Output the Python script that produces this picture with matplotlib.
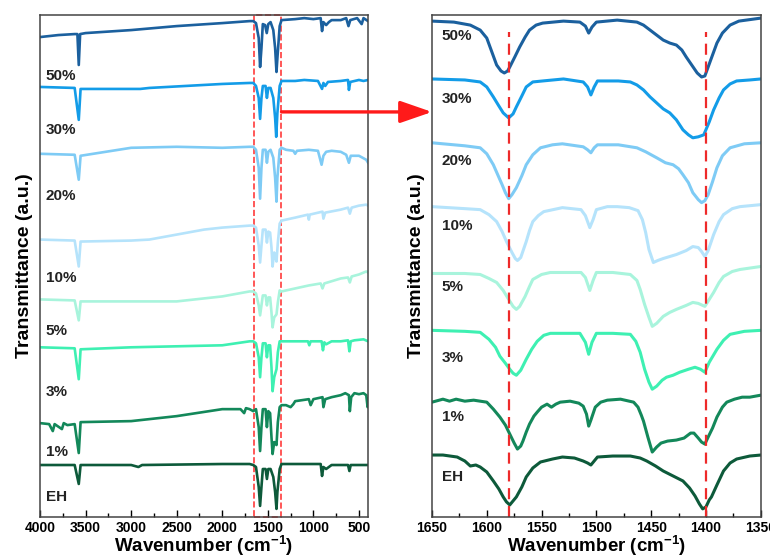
import numpy as np
import matplotlib
matplotlib.use("Agg")
from matplotlib import pyplot as plt
from matplotlib.patches import Rectangle, ConnectionPatch

plt.rcParams['font.family'] = ['Liberation Sans', 'DejaVu Sans']
plt.rcParams['font.weight'] = 'bold'
plt.rcParams['mathtext.fontset'] = 'custom'
plt.rcParams['mathtext.rm'] = 'Liberation Sans:bold'
plt.rcParams['mathtext.bf'] = 'Liberation Sans:bold'
plt.rcParams['mathtext.default'] = 'bf'

labels = ['50%', '30%', '20%', '10%', '5%', '3%', '1%', 'EH']
colors = ['#1b609e', '#139ce8', '#7ecbf5', '#b5e3fb', '#a8f4dc', '#3ef0b2', '#13885a', '#0d5a3a']

# full range spectra (wavenumber, transmittance a.u.)
full_50 = [(4000, 481), (3800, 483), (3620, 484), (3590, 484), (3575, 453), (3560, 484), (3500, 485),
           (3000, 488), (2500, 492), (2000, 495), (1700, 497), (1660, 497), (1630, 495), (1600, 480),
           (1585, 451), (1570, 470), (1555, 494), (1530, 493), (1512, 485), (1495, 494), (1470, 496),
           (1440, 488), (1420, 470), (1405, 446), (1395, 460), (1370, 492), (1350, 498), (1200, 499),
           (1100, 500), (1000, 499), (920, 500), (905, 487), (890, 496), (860, 493), (830, 496),
           (800, 498), (700, 498), (640, 500), (615, 492), (595, 498), (520, 500), (470, 494),
           (450, 500), (400, 497)]
full_30 = [(4000, 431), (3620, 430), (3575, 398), (3555, 429), (2900, 429), (2800, 430), (2000, 434),
           (1700, 435), (1660, 435), (1630, 432), (1600, 420), (1585, 399), (1570, 420), (1555, 432),
           (1525, 432), (1510, 420), (1495, 430), (1470, 430), (1440, 420), (1420, 400), (1408, 381),
           (1395, 405), (1370, 432), (1350, 437), (1200, 437), (1100, 438), (950, 437), (905, 429),
           (890, 435), (870, 432), (840, 436), (700, 437), (620, 438), (610, 428), (595, 436),
           (500, 438), (450, 437), (400, 438)]
full_20 = [(4000, 364), (3620, 363), (3575, 338), (3555, 362), (3000, 370), (2500, 371), (2000, 370),
           (1700, 371), (1660, 371), (1630, 368), (1600, 350), (1585, 319), (1570, 350), (1555, 368),
           (1525, 368), (1510, 355), (1495, 366), (1470, 368), (1440, 360), (1420, 340), (1405, 316),
           (1395, 340), (1370, 368), (1350, 370), (1300, 368), (1220, 367), (1200, 364), (1180, 367),
           (1050, 368), (950, 367), (910, 353), (890, 362), (860, 366), (800, 367), (700, 366),
           (640, 363), (610, 355), (590, 362), (500, 362), (420, 358), (400, 355)]
full_10 = [(4000, 278), (3620, 277), (3575, 251), (3555, 276), (3000, 277), (2800, 278), (2500, 283),
           (2200, 288), (2000, 290), (1700, 292), (1660, 292), (1630, 290), (1600, 272), (1585, 255),
           (1570, 272), (1555, 288), (1525, 288), (1510, 275), (1495, 286), (1475, 285), (1460, 270),
           (1448, 251), (1430, 265), (1420, 262), (1405, 256), (1390, 275), (1370, 294), (1350, 297),
           (1200, 300), (1060, 303), (1050, 298), (1040, 303), (900, 306), (890, 299), (870, 305),
           (700, 308), (620, 310), (600, 304), (580, 310), (500, 312), (420, 313), (400, 312)]
full_5 = [(4000, 218), (3620, 217), (3575, 197), (3555, 216), (3000, 216), (2500, 216), (2000, 221),
          (1700, 226), (1660, 226), (1630, 224), (1600, 212), (1585, 202), (1570, 212), (1555, 222),
          (1525, 222), (1510, 212), (1495, 220), (1475, 220), (1460, 205), (1448, 190), (1430, 200),
          (1405, 203), (1390, 215), (1370, 227), (1350, 226), (1200, 229), (1050, 232), (920, 234),
          (900, 229), (880, 234), (700, 239), (620, 240), (600, 235), (580, 241), (500, 243),
          (420, 246), (400, 245)]
full_3 = [(4000, 170), (3620, 169), (3575, 138), (3555, 168), (3000, 170), (2500, 171), (2000, 172),
          (1700, 176), (1660, 176), (1630, 174), (1600, 160), (1585, 140), (1570, 160), (1555, 174),
          (1525, 174), (1510, 160), (1495, 172), (1475, 172), (1460, 150), (1448, 126), (1430, 140),
          (1405, 148), (1390, 165), (1370, 176), (1350, 176), (1200, 176), (1060, 176), (1045, 172),
          (1030, 176), (910, 176), (895, 167), (880, 175), (860, 173), (800, 176), (700, 176),
          (620, 177), (605, 166), (590, 176), (550, 177), (450, 178), (400, 176)]
full_1 = [(4000, 94), (3900, 93), (3860, 86), (3840, 93), (3760, 88), (3740, 94), (3700, 92), (3620, 93),
          (3575, 64), (3555, 95), (3000, 96), (2500, 101), (2000, 108), (1800, 108), (1760, 104),
          (1740, 109), (1700, 108), (1660, 106), (1630, 108), (1600, 90), (1585, 66), (1570, 90),
          (1555, 108), (1525, 108), (1510, 90), (1495, 106), (1475, 104), (1460, 80), (1448, 63),
          (1430, 75), (1405, 72), (1390, 95), (1370, 110), (1350, 112), (1300, 112), (1250, 110),
          (1220, 113), (1200, 116), (1050, 118), (1030, 112), (1000, 118), (900, 120), (890, 110),
          (870, 118), (800, 120), (700, 122), (650, 124), (610, 122), (600, 106), (585, 120),
          (550, 124), (500, 123), (450, 124), (420, 122), (405, 110), (400, 118)]
full_eh = [(4000, 52), (3620, 52), (3575, 33), (3555, 52), (3000, 52), (2920, 50), (2880, 52),
           (2000, 53), (1700, 53), (1660, 52), (1630, 50), (1600, 30), (1585, 11), (1570, 30),
           (1555, 48), (1525, 48), (1510, 38), (1495, 48), (1470, 48), (1440, 40), (1420, 25),
           (1405, 8), (1395, 25), (1370, 48), (1350, 53), (1200, 53), (1050, 53), (920, 53),
           (905, 41), (890, 50), (860, 48), (800, 52), (700, 52), (620, 52), (605, 46), (590, 52),
           (500, 52), (400, 52)]

# zoomed region 1650-1350
zoom_50 = [(1650, 497), (1630, 496), (1615, 493), (1606, 488), (1600, 480), (1597, 471), (1591, 453),
           (1587, 447), (1584, 445), (1581, 447), (1579, 451), (1574, 462), (1570, 471), (1565, 481),
           (1561, 488), (1555, 493), (1549, 495), (1530, 497), (1515, 496), (1510, 492), (1507, 485),
           (1504, 491), (1500, 496), (1481, 498), (1463, 496), (1457, 493), (1451, 488), (1445, 483),
           (1439, 478), (1433, 475), (1427, 473), (1422, 468), (1418, 461), (1413, 453), (1408, 445),
           (1404, 441), (1401, 442), (1398, 451), (1394, 463), (1390, 475), (1385, 485), (1378, 493),
           (1370, 497), (1350, 500)]
zoom_30 = [(1650, 439), (1620, 438), (1606, 436), (1600, 431), (1594, 421), (1589, 412), (1585, 405),
           (1580, 400), (1576, 404), (1573, 411), (1568, 422), (1564, 431), (1558, 436), (1549, 437),
           (1530, 439), (1512, 436), (1508, 431), (1505, 423), (1502, 431), (1499, 437), (1480, 437),
           (1469, 436), (1463, 433), (1457, 428), (1451, 421), (1445, 415), (1439, 409), (1433, 405),
           (1427, 398), (1421, 388), (1416, 383), (1412, 380), (1407, 381), (1402, 383), (1397, 396),
           (1393, 408), (1388, 420), (1384, 428), (1378, 434), (1372, 437), (1360, 438), (1350, 439)]
zoom_20 = [(1650, 375), (1620, 372), (1606, 370), (1600, 364), (1594, 353), (1590, 343), (1586, 333),
           (1583, 325), (1580, 319), (1577, 323), (1573, 330), (1568, 342), (1564, 353), (1558, 363),
           (1551, 370), (1540, 373), (1531, 374), (1512, 371), (1508, 368), (1505, 365), (1502, 370),
           (1499, 373), (1480, 373), (1463, 370), (1455, 366), (1445, 360), (1437, 355), (1430, 353),
           (1425, 349), (1421, 343), (1416, 335), (1412, 325), (1407, 318), (1404, 315), (1401, 317),
           (1398, 323), (1394, 336), (1390, 350), (1385, 362), (1378, 370), (1365, 374), (1350, 375)]
zoom_10 = [(1650, 311), (1620, 309), (1606, 308), (1598, 303), (1591, 296), (1586, 286), (1582, 276),
           (1577, 265), (1574, 259), (1572, 257), (1569, 260), (1564, 276), (1561, 287), (1558, 296),
           (1553, 302), (1548, 306), (1531, 310), (1514, 308), (1510, 302), (1506, 290), (1503, 298),
           (1500, 308), (1490, 311), (1481, 311), (1470, 310), (1462, 307), (1458, 298), (1455, 285),
           (1452, 268), (1448, 255), (1444, 257), (1439, 259), (1433, 261), (1427, 263), (1418, 267),
           (1412, 271), (1407, 270), (1404, 266), (1401, 261), (1398, 267), (1393, 283), (1388, 296),
           (1384, 303), (1376, 309), (1369, 311), (1350, 313)]
zoom_5 = [(1650, 244), (1620, 244), (1606, 243), (1598, 239), (1591, 235), (1585, 227), (1580, 218),
          (1576, 211), (1573, 208), (1570, 211), (1565, 221), (1561, 231), (1558, 238), (1550, 243),
          (1542, 245), (1530, 245), (1514, 245), (1510, 240), (1506, 227), (1503, 237), (1500, 245),
          (1485, 245), (1469, 243), (1463, 237), (1460, 228), (1456, 213), (1452, 200), (1449, 191),
          (1445, 194), (1439, 201), (1433, 205), (1427, 208), (1418, 212), (1412, 215), (1407, 214),
          (1401, 211), (1397, 218), (1393, 225), (1388, 235), (1384, 241), (1376, 246), (1369, 248),
          (1350, 251)]
zoom_3 = [(1650, 187), (1620, 186), (1606, 185), (1598, 178), (1592, 170), (1588, 161), (1583, 154),
          (1579, 148), (1576, 144), (1573, 142), (1569, 147), (1564, 158), (1559, 168), (1554, 176),
          (1548, 182), (1542, 184), (1530, 184), (1515, 184), (1510, 175), (1507, 163), (1504, 175),
          (1500, 184), (1485, 184), (1469, 183), (1464, 176), (1460, 165), (1456, 148), (1452, 135),
          (1449, 128), (1445, 131), (1440, 137), (1436, 140), (1430, 142), (1424, 145), (1416, 148),
          (1410, 150), (1405, 148), (1401, 145), (1397, 155), (1390, 168), (1384, 177), (1378, 183),
          (1365, 186), (1350, 187)]
zoom_1 = [(1650, 115), (1640, 118), (1634, 116), (1628, 118), (1620, 116), (1612, 117), (1600, 115),
          (1594, 108), (1588, 100), (1583, 92), (1579, 83), (1575, 74), (1572, 68), (1569, 71),
          (1567, 76), (1564, 85), (1561, 93), (1557, 101), (1554, 105), (1550, 110), (1545, 113),
          (1541, 110), (1537, 113), (1533, 115), (1524, 116), (1516, 114), (1512, 111), (1509, 103),
          (1507, 91), (1505, 97), (1501, 110), (1496, 115), (1490, 117), (1478, 118), (1470, 116),
          (1466, 115), (1462, 110), (1459, 102), (1457, 96), (1453, 80), (1449, 65), (1445, 70),
          (1441, 74), (1435, 76), (1427, 77), (1420, 79), (1414, 84), (1411, 84), (1407, 79),
          (1404, 75), (1401, 73), (1398, 80), (1394, 89), (1390, 100), (1385, 110), (1381, 115),
          (1374, 118), (1367, 120), (1360, 120), (1350, 122)]
zoom_eh = [(1650, 62), (1640, 62), (1627, 60), (1620, 56), (1615, 51), (1610, 52), (1606, 50),
           (1600, 45), (1594, 36), (1589, 28), (1585, 20), (1582, 15), (1579, 12), (1576, 16),
           (1573, 20), (1568, 30), (1564, 40), (1558, 49), (1551, 55), (1540, 58), (1531, 60),
           (1520, 59), (1512, 56), (1508, 54), (1505, 52), (1502, 56), (1499, 60), (1485, 61),
           (1469, 61), (1460, 59), (1454, 56), (1446, 51), (1439, 46), (1430, 41), (1421, 36),
           (1415, 29), (1410, 21), (1406, 13), (1403, 8), (1400, 10), (1397, 17), (1395, 20),
           (1390, 32), (1384, 46), (1378, 54), (1372, 58), (1360, 61), (1350, 62)]

full_sets = [full_50, full_30, full_20, full_10, full_5, full_3, full_1, full_eh]
zoom_sets = [zoom_50, zoom_30, zoom_20, zoom_10, zoom_5, zoom_3, zoom_1, zoom_eh]

# label heights (a.u.)
full_label_y = [442, 388, 322, 239, 186, 125, 65, 20]
zoom_label_y = [482, 419, 357, 292, 230, 159, 100, 40]

peaks = [1580, 1400]

fig = plt.figure(figsize=(7.7, 5.6), dpi=100)
ax1 = fig.add_axes([0.052, 0.077, 0.426, 0.896])
ax2 = fig.add_axes([0.561, 0.077, 0.427, 0.896])

for data, c in zip(full_sets, colors):
    d = np.array(data)
    ax1.plot(d[:, 0], d[:, 1], color=c, lw=1.9, solid_joinstyle='round')
for data, c in zip(zoom_sets, colors):
    d = np.array(data)
    ax2.plot(d[:, 0], d[:, 1], color=c, lw=2.2, solid_joinstyle='round')

for lab, y in zip(labels, full_label_y):
    ax1.text(3935, y, lab, fontsize=11, fontweight='bold', va='center', ha='left', color='#222222')
for lab, y in zip(labels, zoom_label_y):
    ax2.text(1641, y, lab, fontsize=11, fontweight='bold', va='center', ha='left', color='#222222')

ax1.set_xlim(4000, 400)
ax1.set_ylim(0, 503)
ax2.set_xlim(1650, 1350)
ax2.set_ylim(0, 503)

ax1.add_patch(Rectangle((1650, 0), -300, 503, fill=False, ls='--', lw=1.2, ec='#ff3b3b', clip_on=False))
for p in peaks:
    ax2.plot([p, p], [0, 486], ls='--', lw=1.6, color='#ee2a2a', dashes=(5, 3))

ax1.set_xticks(np.arange(4000, 400, -500))
ax1.set_xticks(np.arange(3750, 400, -500), minor=True)
ax2.set_xticks(np.arange(1650, 1340, -50))
ax2.set_xticks(np.arange(1625, 1340, -50), minor=True)

for ax in (ax1, ax2):
    ax.set_yticks([])
    ax.tick_params(axis='x', which='major', direction='in', length=5, width=1, labelsize=10, pad=3)
    ax.tick_params(axis='x', which='minor', direction='in', length=3, width=1)
    for lbl in ax.get_xticklabels():
        lbl.set_fontweight('bold')
    for s in ax.spines.values():
        s.set_color('#444444')
        s.set_linewidth(1.1)
    ax.set_xlabel(r'Wavenumber (cm$^{\mathbf{-1}}$)', fontsize=13.5, fontweight='bold', labelpad=-1)
    ax.set_ylabel('Transmittance (a.u.)', fontsize=14, fontweight='bold', labelpad=5)

con = ConnectionPatch(xyA=(1350, 406), coordsA=ax1.transData,
                      xyB=(0, 0.807), coordsB=ax2.transAxes,
                      arrowstyle='-|>,head_length=1.3,head_width=0.45', mutation_scale=15,
                      color='#ff1a1a', lw=2.4)
fig.add_artist(con)

fig.savefig('out.png', dpi=100)
